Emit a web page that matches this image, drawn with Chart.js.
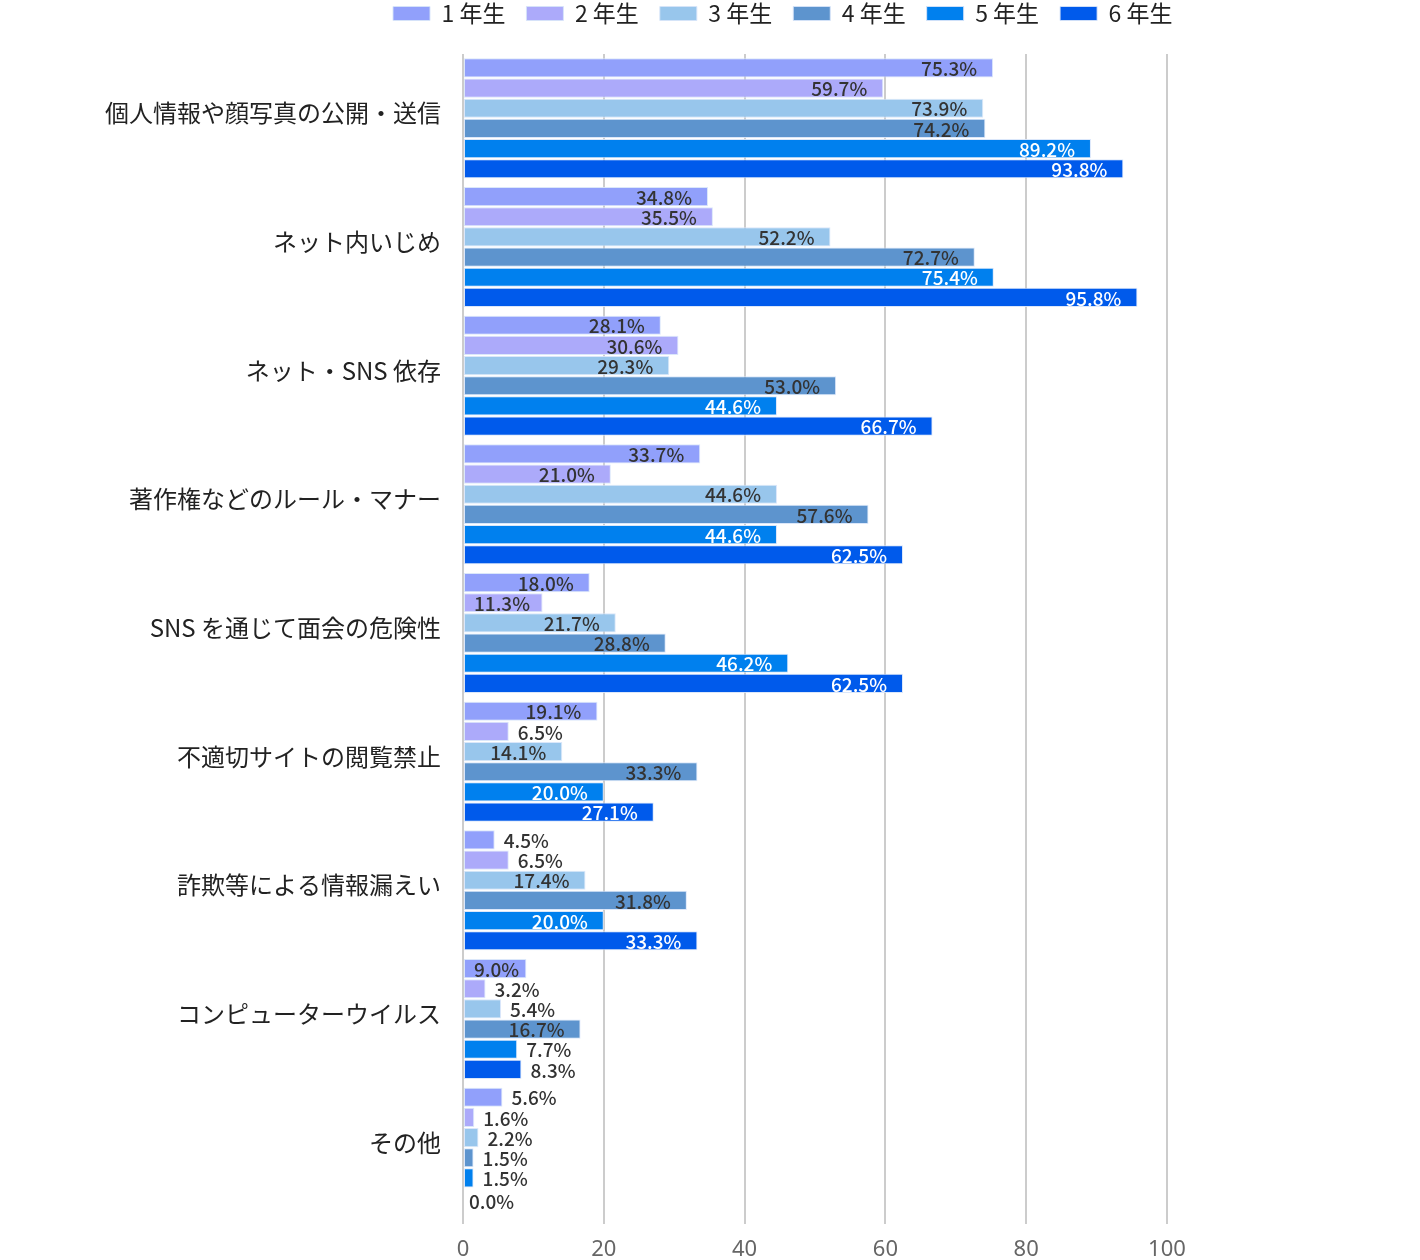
<!DOCTYPE html>
<html>
<head>
<meta charset="utf-8">
<script src="https://cdn.jsdelivr.net/npm/chart.js@4"></script>
<style>
  html, body { margin: 0; padding: 0; background: #fff; }
  #wrap { width: 1420px; height: 1260px; }
</style>
</head>
<body>
<div id="wrap"><canvas id="c" width="1420" height="1260"></canvas></div>
<script>
const categories = [
  '個人情報や顔写真の公開・送信',
  'ネット内いじめ',
  'ネット・SNS 依存',
  '著作権などのルール・マナー',
  'SNS を通じて面会の危険性',
  '不適切サイトの閲覧禁止',
  '詐欺等による情報漏えい',
  'コンピューターウイルス',
  'その他'
];
const seriesNames = ['1 年生', '2 年生', '3 年生', '4 年生', '5 年生', '6 年生'];
const grade1 = [75.3, 34.8, 28.1, 33.7, 18.0, 19.1, 4.5, 9.0, 5.6];
const grade2 = [59.7, 35.5, 30.6, 21.0, 11.3, 6.5, 6.5, 3.2, 1.6];
const grade3 = [73.9, 52.2, 29.3, 44.6, 21.7, 14.1, 17.4, 5.4, 2.2];
const grade4 = [74.2, 72.7, 53.0, 57.6, 28.8, 33.3, 31.8, 16.7, 1.5];
const grade5 = [89.2, 75.4, 44.6, 44.6, 46.2, 20.0, 20.0, 7.7, 1.5];
const grade6 = [93.8, 95.8, 66.7, 62.5, 62.5, 27.1, 33.3, 8.3, 0.0];
const xTicks = [0, 20, 40, 60, 80, 100];

const seriesValues = [grade1, grade2, grade3, grade4, grade5, grade6];
const colors = ['#91a0fb', '#acaafa', '#98c6ec', '#5d94ce', '#0080ee', '#005aeb'];
const insideLabelColors = ['#333333', '#333333', '#333333', '#333333', '#ffffff', '#ffffff'];

const CJK = '"Noto Sans CJK JP", "Noto Sans", sans-serif';

const labelPlugin = {
  id: 'barLabels',
  afterDatasetsDraw(chart) {
    const ctx = chart.ctx;
    ctx.save();
    ctx.font = '500 19px ' + CJK;
    ctx.textBaseline = 'middle';
    chart.data.datasets.forEach((ds, i) => {
      const meta = chart.getDatasetMeta(i);
      meta.data.forEach((el, j) => {
        const v = ds.data[j];
        const text = v.toFixed(1) + '%';
        const w = ctx.measureText(text).width;
        const barW = el.x - el.base;
        if (barW - w >= 17) {
          ctx.textAlign = 'right';
          ctx.fillStyle = insideLabelColors[i];
          ctx.fillText(text, Math.max(el.x - 16, el.base + 10 + w), el.y + 1);
        } else {
          ctx.textAlign = 'left';
          ctx.fillStyle = '#333333';
          ctx.fillText(text, el.x + (v === 0 ? 6 : 9), el.y + (v === 0 ? 4 : 1));
        }
      });
    });
    ctx.restore();
  }
};

const legendShift = {
  id: 'legendShift',
  afterLayout(chart) {
    const lg = chart.legend;
    if (!lg || !lg.lineWidths) return;
    const pad = lg.options.labels.padding;
    const start = (lg.left + pad + lg.right - lg.lineWidths[0]) / 2;
    const dx = 393 - start;
    lg.left += dx;
    lg.right += dx;
    lg.top -= 19;
    lg.bottom -= 19;
  }
};

new Chart(document.getElementById('c'), {
  type: 'bar',
  data: {
    labels: categories,
    datasets: seriesNames.map((n, i) => ({
      label: n,
      data: seriesValues[i],
      backgroundColor: colors[i],
      borderColor: 'rgba(215,228,250,0.9)',
      borderWidth: 1,
      borderSkipped: false,
      categoryPercentage: 0.94,
      barPercentage: 0.95
    }))
  },
  options: {
    indexAxis: 'y',
    responsive: false,
    animation: false,
    devicePixelRatio: 1,
    layout: { padding: { left: 0, right: 253, top: 0, bottom: 0 } },
    plugins: {
      legend: {
        position: 'top',
        labels: {
          boxWidth: 37,
          boxHeight: 14,
          padding: 21,
          color: '#222222',
          font: { family: CJK, size: 23 }
        }
      },
      tooltip: { enabled: false }
    },
    scales: {
      x: {
        min: 0,
        max: 100,
        afterBuildTicks(scale) { scale.ticks = xTicks.map(v => ({ value: v })); },
        afterFit(scale) { scale.height = 48; },
        grid: { color: '#cccccc', lineWidth: 2, tickLength: 12, tickColor: '#cccccc', drawTicks: true },
        border: { display: false },
        ticks: { color: '#666666', padding: 13, font: { family: '"Noto Sans", sans-serif', size: 22 } }
      },
      y: {
        afterFit(scale) { scale.width = 463; },
        grid: { display: false, drawTicks: false },
        border: { display: false },
        ticks: { color: '#222222', padding: 22, labelOffset: -5, font: { family: CJK, size: 24 } }
      }
    }
  },
  plugins: [labelPlugin, legendShift]
});
</script>
</body>
</html>
